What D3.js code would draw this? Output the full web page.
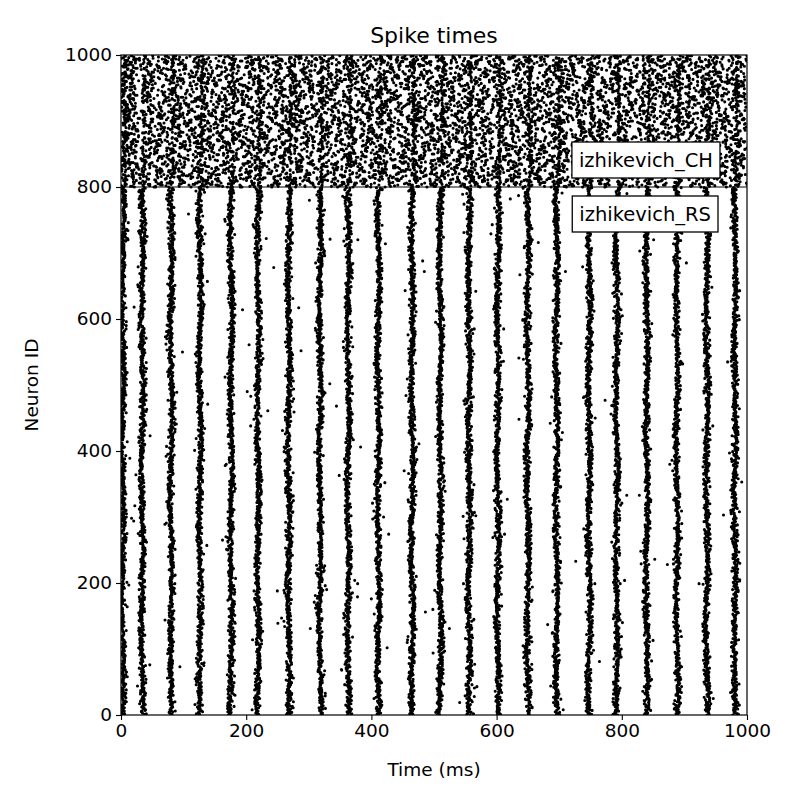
<!DOCTYPE html>
<html><head><meta charset="utf-8">
<script src="https://cdn.jsdelivr.net/npm/d3@7"></script>
<style>body{margin:0;background:#fff}text{font-family:"DejaVu Sans",sans-serif}</style>
</head><body>
<svg id="chart" width="800" height="800"></svg>
<script>
// population burst times (ms)
const rsBurstTimes = [3, 34, 80, 126, 176, 219, 268, 318, 363, 411, 465, 510, 556, 602, 650, 696, 748, 792, 840, 888, 936, 981]
const populations = [
  {name: "izhikevich_RS", first: 0, count: 800},
  {name: "izhikevich_CH", first: 800, count: 200}
]
const xTicks = [0, 200, 400, 600, 800, 1000]
const yTicks = [0, 200, 400, 600, 800, 1000]

const margin = {top: 55, right: 53, bottom: 85, left: 121}
const width = 800 - margin.left - margin.right
const height = 800 - margin.top - margin.bottom
const svg = d3.select("#chart")
const g = svg.append("g").attr("transform", `translate(${margin.left},${margin.top})`)
const x = d3.scaleLinear().domain([0, 1000]).range([0, width])
const y = d3.scaleLinear().domain([0, 1000]).range([height, 0])

// spike list built from burst times, seeded so the picture is stable
const rng = d3.randomLcg(0.42)
const normal = d3.randomNormal.source(rng)(0, 1)
const spikes = []
const rs = populations[0]
for (let n = rs.first; n < rs.first + rs.count; n++) {
  rsBurstTimes.forEach((t, i) => {
    const wave = 1.5 * Math.sin(n / 37 + i)
    let s = t + wave + normal() * 2.4
    if (rng() < 0.02) s += normal() * 8
    if (s >= 0 && s <= 1000) spikes.push([s, n])
  })
}
const ch = populations[1]
for (let n = ch.first; n < ch.first + ch.count; n++) {
  let t = rng() * 25
  while (t < 1000) {
    spikes.push([t, n])
    if (rng() < 0.2) spikes.push([t + 2.5, n])
    t += 20 + rng() * 26
  }
  rsBurstTimes.forEach(b => { if (rng() < 0.3) spikes.push([b + 3 + normal() * 1.5, n]) })
}

const p = d3.path()
const r = 1.55
spikes.forEach(([t, n]) => {
  const px = x(t), py = y(n)
  p.moveTo(px + r, py)
  p.arc(px, py, r, 0, 2 * Math.PI)
})
g.append("clipPath").attr("id", "clip").append("rect").attr("width", width).attr("height", height)
g.append("path").attr("d", p.toString()).attr("fill", "#000").attr("clip-path", "url(#clip)")

// population boundary
g.append("line").attr("x1", 0).attr("x2", width).attr("y1", y(800)).attr("y2", y(800))
  .attr("stroke", "#000").attr("stroke-width", 1.2)

// labels
const labels = [{text: "izhikevich_CH", dy: -27, right: 720}, {text: "izhikevich_RS", dy: 27, right: 718}]
labels.forEach(l => {
  const cy = y(800) + l.dy
  const lg = g.append("g")
  const t = lg.append("text").attr("x", l.right - margin.left - 7).attr("y", cy).attr("text-anchor", "end")
    .attr("dominant-baseline", "central").style("font-size", "19.5px").text(l.text)
  const bb = t.node().getBBox()
  lg.insert("rect", "text").attr("x", bb.x - 7).attr("y", cy - 18).attr("width", bb.width + 14).attr("height", 36)
    .attr("fill", "#fff").attr("stroke", "#000").attr("stroke-width", 1.3)
})

g.append("rect").attr("width", width).attr("height", height).attr("fill", "none").attr("stroke", "#000").attr("stroke-width", 1.2)

const xa = g.append("g").attr("transform", `translate(0,${height})`)
  .call(d3.axisBottom(x).tickValues(xTicks).tickFormat(d3.format("d")).tickSize(5).tickPadding(4))
const ya = g.append("g").call(d3.axisLeft(y).tickValues(yTicks).tickFormat(d3.format("d")).tickSize(5).tickPadding(4))
;[xa, ya].forEach(a => {
  a.select(".domain").remove()
  a.selectAll("text").style("font-size", "18.5px").attr("fill", "#000").style("font-family", "DejaVu Sans")
  a.selectAll("line").attr("stroke", "#000").attr("stroke-width", 1.1)
})

svg.append("text").attr("x", margin.left + width / 2).attr("y", 43).attr("text-anchor", "middle")
  .style("font-size", "22px").text("Spike times")
svg.append("text").attr("x", margin.left + width / 2).attr("y", 776).attr("text-anchor", "middle")
  .style("font-size", "18.5px").text("Time (ms)")
svg.append("text").attr("transform", `translate(38,${margin.top + height / 2}) rotate(-90)`)
  .attr("text-anchor", "middle").style("font-size", "18.5px").text("Neuron ID")
</script>
</body></html>
